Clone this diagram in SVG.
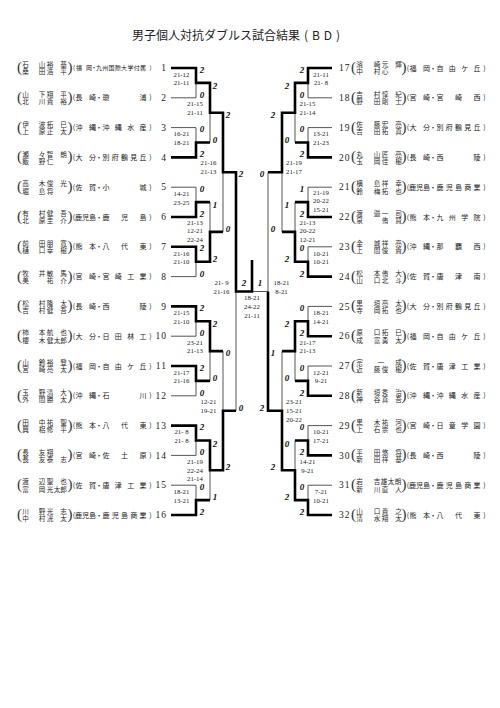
<svg xmlns="http://www.w3.org/2000/svg" width="500" height="708" viewBox="0 0 500 708">
<style>
.t{fill:none;stroke:#555;stroke-width:1}
.k{fill:none;stroke:#000;stroke-width:2.6;stroke-linejoin:miter}
.nm{font-family:"Noto Sans CJK JP","Noto Sans CJK SC",sans-serif;font-size:6.6px;fill:#2a2a2a;text-anchor:middle}
.sc{font-family:"Noto Sans CJK JP","Noto Sans CJK SC",sans-serif;font-size:7px;fill:#222;text-anchor:middle}
.bp{font-family:"Liberation Serif",serif;font-size:15px;fill:#333;text-anchor:middle}
.nl{font-family:"Liberation Serif",serif;font-size:9.5px;fill:#222;text-anchor:end;letter-spacing:1px}
.nr{font-family:"Liberation Serif",serif;font-size:9.5px;fill:#222;text-anchor:start;letter-spacing:1px}
.s{font-family:"Liberation Serif",serif;font-size:6.8px;fill:#222;text-anchor:middle}
.g{font-family:"Liberation Serif",serif;font-style:italic;font-weight:bold;font-size:9px;fill:#111;text-anchor:middle}
.ti{font-family:"Noto Sans CJK JP","Noto Sans CJK SC",sans-serif;font-size:12px;fill:#222}
</style>
<rect width="500" height="708" fill="#fff"/>
<text class="ti" x="132" y="39.5">男子個人対抗ダブルス試合結果</text>
<text class="ti" x="304" y="39.5" textLength="36">(BD)</text>

<g id="connectors">
<path class="t" d="M171,97.8H196V82.9M171,127.6H196V142.5M171,187.2H196V202.1M171,276.6H196V261.7M171,336.2H196V321.3M171,395.8H196V380.9M171,455.4H196V440.5M171,485.2H196V500.1M210,142.5V112.7M210,202.1V231.9M223,231.9V172.3M223,351.1V410.7M210,380.9V351.1M236,410.7V291.5M210,500.1V470.3M252,291.5H268"/>
<path class="t" d="M332,97.8H308V82.9M332,127.6H308V142.5M332,187.2H308V202.1M332,246.8H308V261.7M332,306.4H308V321.3M332,366H308V380.9M332,425.6H308V440.5M332,485.2H308V500.1M268,172.3V291.5M295,142.5V112.7M295,202.1V231.9M282,231.9V172.3M282,351.1V410.7M295,380.9V351.1M295,440.5V470.3"/>
<path class="k" d="M171,68H196V82.9H210V112.7H223V172.3H236V291.5H252V260"/>
<path class="k" d="M171,157.4H196V142.5H210"/>
<path class="k" d="M171,217H196V202.1H210"/>
<path class="k" d="M171,246.8H196V261.7H210V231.9H223"/>
<path class="k" d="M171,306.4H196V321.3H210V351.1H223"/>
<path class="k" d="M171,366H196V380.9H210"/>
<path class="k" d="M171,425.6H196V440.5H210V470.3H223V410.7H236"/>
<path class="k" d="M171,515H196V500.1H210"/>
<path class="k" d="M332,68H308V82.9H295V112.7H282V172.3H268"/>
<path class="k" d="M332,157.4H308V142.5H295"/>
<path class="k" d="M332,217H308V202.1H295"/>
<path class="k" d="M332,276.6H308V261.7H295V231.9H282"/>
<path class="k" d="M332,336.2H308V321.3H295V351.1H282"/>
<path class="k" d="M332,395.8H308V380.9H295"/>
<path class="k" d="M332,455.4H308V440.5H295"/>
<path class="k" d="M332,515H308V500.1H295V470.3H282V410.7H268V291.5"/>
</g>

<g id="games">
<text class="g" x="202" y="72.5">2</text><text class="g" x="202" y="97.8">0</text>
<text class="g" x="202" y="132.1">0</text><text class="g" x="202" y="157.4">2</text>
<text class="g" x="202" y="191.7">0</text><text class="g" x="202" y="217">2</text>
<text class="g" x="202" y="251.3">2</text><text class="g" x="202" y="276.6">0</text>
<text class="g" x="202" y="310.9">2</text><text class="g" x="202" y="336.2">0</text>
<text class="g" x="202" y="370.5">2</text><text class="g" x="202" y="395.8">0</text>
<text class="g" x="202" y="430.1">2</text><text class="g" x="202" y="455.4">0</text>
<text class="g" x="202" y="489.7">0</text><text class="g" x="202" y="515">2</text>
<text class="g" x="215" y="88.9">2</text><text class="g" x="215" y="142.5">0</text>
<text class="g" x="215" y="208.1">1</text><text class="g" x="215" y="261.7">2</text>
<text class="g" x="215" y="327.3">2</text><text class="g" x="215" y="380.9">0</text>
<text class="g" x="215" y="446.5">2</text><text class="g" x="215" y="500.1">1</text>
<text class="g" x="228" y="117.7">2</text><text class="g" x="228" y="231.9">0</text>
<text class="g" x="228" y="356.1">0</text><text class="g" x="228" y="470.3">2</text>
<text class="g" x="241" y="177.3">2</text><text class="g" x="241" y="410.7">0</text>
<text class="g" x="244" y="286">2</text><text class="g" x="260" y="286">1</text>
<text class="g" x="302" y="72.5">2</text><text class="g" x="302" y="97.8">0</text>
<text class="g" x="302" y="132.1">0</text><text class="g" x="302" y="157.4">2</text>
<text class="g" x="302" y="191.7">1</text><text class="g" x="302" y="217">2</text>
<text class="g" x="302" y="251.3">0</text><text class="g" x="302" y="276.6">2</text>
<text class="g" x="302" y="310.9">0</text><text class="g" x="302" y="336.2">2</text>
<text class="g" x="302" y="370.5">0</text><text class="g" x="302" y="395.8">2</text>
<text class="g" x="302" y="430.1">0</text><text class="g" x="302" y="455.4">2</text>
<text class="g" x="302" y="489.7">0</text><text class="g" x="302" y="515">2</text>
<text class="g" x="287" y="88.9">2</text><text class="g" x="287" y="142.5">0</text>
<text class="g" x="287" y="208.1">1</text><text class="g" x="287" y="261.7">2</text>
<text class="g" x="287" y="327.3">2</text><text class="g" x="287" y="380.9">0</text>
<text class="g" x="287" y="446.5">0</text><text class="g" x="287" y="500.1">2</text>
<text class="g" x="273" y="117.7">2</text><text class="g" x="273" y="231.9">0</text>
<text class="g" x="273" y="356.1">1</text><text class="g" x="273" y="470.3">2</text>
<text class="g" x="262" y="177.3">0</text><text class="g" x="262" y="410.7">2</text>
</g>

<g id="scores">
<text class="s" x="181.5" y="76.8">21-12</text><text class="s" x="181.5" y="85.3">21-11</text>
<text class="s" x="181.5" y="136.4">16-21</text><text class="s" x="181.5" y="144.9">18-21</text>
<text class="s" x="181.5" y="196">14-21</text><text class="s" x="181.5" y="204.5">23-25</text>
<text class="s" x="181.5" y="255.6">21-16</text><text class="s" x="181.5" y="264.1">21-10</text>
<text class="s" x="181.5" y="315.2">21-15</text><text class="s" x="181.5" y="323.7">21-10</text>
<text class="s" x="181.5" y="374.8">21-17</text><text class="s" x="181.5" y="383.3">21-16</text>
<text class="s" x="181.5" y="434.4">21- 8</text><text class="s" x="181.5" y="442.9">21- 8</text>
<text class="s" x="181.5" y="494">18-21</text><text class="s" x="181.5" y="502.5">13-21</text>
<text class="s" x="195" y="106.1">21-15</text><text class="s" x="195" y="114.9">21-11</text>
<text class="s" x="195" y="224.6">21-13</text><text class="s" x="195" y="233.4">12-21</text><text class="s" x="195" y="242.2">22-24</text>
<text class="s" x="195" y="344.5">23-21</text><text class="s" x="195" y="353.3">21-13</text>
<text class="s" x="195" y="463.7">21-19</text><text class="s" x="195" y="472.5">22-24</text><text class="s" x="195" y="481.3">21-14</text>
<text class="s" x="208.5" y="164.8">21-16</text><text class="s" x="208.5" y="173.8">21-13</text>
<text class="s" x="208.5" y="404">12-21</text><text class="s" x="208.5" y="413">19-21</text>
<text class="s" x="221.5" y="284.8">21- 9</text><text class="s" x="221.5" y="293.8">21-16</text>
<text class="s" x="252" y="300.3">18-21</text><text class="s" x="252" y="309.3">24-22</text><text class="s" x="252" y="318.3">21-11</text>
<text class="s" x="281.5" y="284.8">18-21</text><text class="s" x="281.5" y="293.8">8-21</text>
<text class="s" x="294" y="165">21-19</text><text class="s" x="294" y="174">21-17</text>
<text class="s" x="294" y="404.3">23-21</text><text class="s" x="294" y="413">15-21</text><text class="s" x="294" y="421.8">20-22</text>
<text class="s" x="307.5" y="106.1">21-15</text><text class="s" x="307.5" y="114.9">21-14</text>
<text class="s" x="307.5" y="224.6">21-13</text><text class="s" x="307.5" y="233.4">20-22</text><text class="s" x="307.5" y="242.2">12-21</text>
<text class="s" x="307.5" y="344.5">21-17</text><text class="s" x="307.5" y="353.3">21-13</text>
<text class="s" x="307.5" y="463.7">14-21</text><text class="s" x="307.5" y="472.5">9-21</text>
<text class="s" x="321" y="76.8">21-11</text><text class="s" x="321" y="85.3">21- 8</text>
<text class="s" x="321" y="136.4">13-21</text><text class="s" x="321" y="144.9">21-23</text>
<text class="s" x="321" y="194.5">21-19</text><text class="s" x="321" y="203">20-22</text><text class="s" x="321" y="211.5">15-21</text>
<text class="s" x="321" y="255.6">10-21</text><text class="s" x="321" y="264.1">10-21</text>
<text class="s" x="321" y="315.2">18-21</text><text class="s" x="321" y="323.7">14-21</text>
<text class="s" x="321" y="374.8">12-21</text><text class="s" x="321" y="383.3">9-21</text>
<text class="s" x="321" y="434.4">10-21</text><text class="s" x="321" y="442.9">17-21</text>
<text class="s" x="321" y="494">7-21</text><text class="s" x="321" y="502.5">10-21</text>
</g>

<g id="e1" transform="translate(0,68)"><text class="bp" x="19.5" y="4">(</text><text class="nm"><tspan x="25.5 42 50 63.5" y="-0.8">石山裕基</tspan><tspan x="25.5 42 50 63.5" y="6.4">桑田浩平</tspan></text><text class="bp" x="70" y="4">)</text><text class="sc" style="font-size:6px" x="74 79 89 94 99 105.3 111.6 117.9 124.1 130.4 136.7 143 150.5" y="2.3">(福岡・九州国際大学付属)</text><text class="nl" x="167" y="3.2">1</text></g>
<g id="e2" transform="translate(0,97.8)"><text class="bp" x="19.5" y="4">(</text><text class="nm"><tspan x="25.5 42 50 63.5" y="-0.8">山下翔平</tspan><tspan x="25.5 42 50 63.5" y="6.4">北川貴裕</tspan></text><text class="bp" x="70" y="4">)</text><text class="sc" x="74 79 92.5 99 106 143 150.5" y="2.5">(長崎・瓊浦)</text><text class="nl" x="167" y="3.2">2</text></g>
<g id="e3" transform="translate(0,127.6)"><text class="bp" x="19.5" y="4">(</text><text class="nm"><tspan x="25.5 42 50 63.5" y="-0.8">伊波拓巳</tspan><tspan x="25.5 42 50 63.5" y="6.4">上原正太</tspan></text><text class="bp" x="70" y="4">)</text><text class="sc" x="74 79 92.5 99 106 118.3 130.7 143 150.5" y="2.5">(沖縄・沖縄水産)</text><text class="nl" x="167" y="3.2">3</text></g>
<g id="e4" transform="translate(0,157.4)"><text class="bp" x="19.5" y="4">(</text><text class="nm"><tspan x="25.5 42 50 63.5" y="-0.8">瀬々智朗</tspan><tspan x="25.5 42 50" y="6.4">飯野仁</tspan></text><text class="bp" x="70" y="4">)</text><text class="sc" x="74 79 92.5 99 106 115.3 124.5 133.8 143 150.5" y="2.5">(大分・別府鶴見丘)</text><text class="nl" x="167" y="3.2">4</text></g>
<g id="e5" transform="translate(0,187.2)"><text class="bp" x="19.5" y="4">(</text><text class="nm"><tspan x="25.5 42 50 63.5" y="-0.8">高木俊光</tspan><tspan x="25.5 42 50" y="6.4">堀島将</tspan></text><text class="bp" x="70" y="4">)</text><text class="sc" x="74 79 92.5 99 106 143 150.5" y="2.5">(佐賀・小城)</text><text class="nl" x="167" y="3.2">5</text></g>
<g id="e6" transform="translate(0,217)"><text class="bp" x="19.5" y="4">(</text><text class="nm"><tspan x="25.5 42 50 63.5" y="-0.8">有村健吾</tspan><tspan x="25.5 42 50 63.5" y="6.4">北原圭介</tspan></text><text class="bp" x="70" y="4">)</text><text class="sc" x="74 78.5 85.5 92.5 99 106 124.5 143 150.5" y="2.5">(鹿児島・鹿児島)</text><text class="nl" x="167" y="3.2">6</text></g>
<g id="e7" transform="translate(0,246.8)"><text class="bp" x="19.5" y="4">(</text><text class="nm"><tspan x="25.5 42 50 63.5" y="-0.8">前田朋寛</tspan><tspan x="25.5 42 50 63.5" y="6.4">樋口幸樹</tspan></text><text class="bp" x="70" y="4">)</text><text class="sc" x="74 79 92.5 99 106 124.5 143 150.5" y="2.5">(熊本・八代東)</text><text class="nl" x="167" y="3.2">7</text></g>
<g id="e8" transform="translate(0,276.6)"><text class="bp" x="19.5" y="4">(</text><text class="nm"><tspan x="25.5 42 50 63.5" y="-0.8">牧井敏馬</tspan><tspan x="25.5 50 63.5" y="6.4">美祐介</tspan></text><text class="bp" x="70" y="4">)</text><text class="sc" x="74 79 92.5 99 106 118.3 130.7 143 150.5" y="2.5">(宮崎・宮崎工業)</text><text class="nl" x="167" y="3.2">8</text></g>
<g id="e9" transform="translate(0,306.4)"><text class="bp" x="19.5" y="4">(</text><text class="nm"><tspan x="25.5 42 50 63.5" y="-0.8">松村隆太</tspan><tspan x="25.5 42 50 63.5" y="6.4">吉村健吾</tspan></text><text class="bp" x="70" y="4">)</text><text class="sc" x="74 79 92.5 99 106 143 150.5" y="2.5">(長崎・西陵)</text><text class="nl" x="167" y="3.2">9</text></g>
<g id="e10" transform="translate(0,336.2)"><text class="bp" x="19.5" y="4">(</text><text class="nm"><tspan x="25.5 42 50 63.5" y="-0.8">柿本航也</tspan><tspan x="25.5 42 50 57 63.5" y="6.4">櫻木健太郎</tspan></text><text class="bp" x="70" y="4">)</text><text class="sc" x="74 79 92.5 99 106 118.3 130.7 143 150.5" y="2.5">(大分・日田林工)</text><text class="nl" x="167" y="3.2">10</text></g>
<g id="e11" transform="translate(0,366)"><text class="bp" x="19.5" y="4">(</text><text class="nm"><tspan x="25.5 42 50 63.5" y="-0.8">山鈴裕登</tspan><tspan x="25.5 42 50 63.5" y="6.4">宮崎亮太</tspan></text><text class="bp" x="70" y="4">)</text><text class="sc" x="74 79 92.5 99 106 118.3 130.7 143 150.5" y="2.5">(福岡・自由ケ丘)</text><text class="nl" x="167" y="3.2">11</text></g>
<g id="e12" transform="translate(0,395.8)"><text class="bp" x="19.5" y="4">(</text><text class="nm"><tspan x="25.5 42 50 63.5" y="-0.8">玉野清大</tspan><tspan x="25.5 42 50 63.5" y="6.4">外間勝太</tspan></text><text class="bp" x="70" y="4">)</text><text class="sc" x="74 79 92.5 99 106 143 150.5" y="2.5">(沖縄・石川)</text><text class="nl" x="167" y="3.2">12</text></g>
<g id="e13" transform="translate(0,425.6)"><text class="bp" x="19.5" y="4">(</text><text class="nm"><tspan x="25.5 42 50 63.5" y="-0.8">田中祐聖</tspan><tspan x="25.5 42 50 63.5" y="6.4">興梠修平</tspan></text><text class="bp" x="70" y="4">)</text><text class="sc" x="74 79 92.5 99 106 124.5 143 150.5" y="2.5">(熊本・八代東)</text><text class="nl" x="167" y="3.2">13</text></g>
<g id="e14" transform="translate(0,455.4)"><text class="bp" x="19.5" y="4">(</text><text class="nm"><tspan x="25.5 42 50" y="-0.8">長友翔</tspan><tspan x="25.5 42 50 63.5" y="6.4">長友泰志</tspan></text><text class="bp" x="70" y="4">)</text><text class="sc" x="74 79 92.5 99 106 124.5 143 150.5" y="2.5">(宮崎・佐土原)</text><text class="nl" x="167" y="3.2">14</text></g>
<g id="e15" transform="translate(0,485.2)"><text class="bp" x="19.5" y="4">(</text><text class="nm"><tspan x="25.5 42 50 63.5" y="-0.8">渡辺聖也</tspan><tspan x="25.5 42 50 57 63.5" y="6.4">富岡光太郎</tspan></text><text class="bp" x="70" y="4">)</text><text class="sc" x="74 79 92.5 99 106 118.3 130.7 143 150.5" y="2.5">(佐賀・唐津工業)</text><text class="nl" x="167" y="3.2">15</text></g>
<g id="e16" transform="translate(0,515)"><text class="bp" x="19.5" y="4">(</text><text class="nm"><tspan x="25.5 42 50 63.5" y="-0.8">川野光志</tspan><tspan x="25.5 42 50 63.5" y="6.4">中村洸太</tspan></text><text class="bp" x="70" y="4">)</text><text class="sc" x="74 78.5 85.5 92.5 99 106 115.3 124.5 133.8 143 150.5" y="2.5">(鹿児島・鹿児島商業)</text><text class="nl" x="167" y="3.2">16</text></g>

<g id="e17" transform="translate(0,68)"><text class="nr" x="339" y="3.2">17</text><text class="bp" x="353.5" y="4">(</text><text class="nm"><tspan x="359.5 377 385 398.5" y="-0.8">濱崎元輝</tspan><tspan x="359.5 377 385" y="6.4">中村心</tspan></text><text class="bp" x="404" y="4">)</text><text class="sc" x="408 413 426.5 433 440 452.3 464.7 477 484.5" y="2.5">(福岡・自由ケ丘)</text></g>
<g id="e18" transform="translate(0,97.8)"><text class="nr" x="339" y="3.2">18</text><text class="bp" x="353.5" y="4">(</text><text class="nm"><tspan x="359.5 377 385 398.5" y="-0.8">吉村惇紀</tspan><tspan x="359.5 377 385 398.5" y="6.4">野田剛士</tspan></text><text class="bp" x="404" y="4">)</text><text class="sc" x="408 413 426.5 433 440 458.5 477 484.5" y="2.5">(宮崎・宮崎西)</text></g>
<g id="e19" transform="translate(0,127.6)"><text class="nr" x="339" y="3.2">19</text><text class="bp" x="353.5" y="4">(</text><text class="nm"><tspan x="359.5 377 385 398.5" y="-0.8">佐藤宏亮</tspan><tspan x="359.5 377 385 398.5" y="6.4">吉田拓真</tspan></text><text class="bp" x="404" y="4">)</text><text class="sc" x="408 413 426.5 433 440 449.3 458.5 467.8 477 484.5" y="2.5">(大分・別府鶴見丘)</text></g>
<g id="e20" transform="translate(0,157.4)"><text class="nr" x="339" y="3.2">20</text><text class="bp" x="353.5" y="4">(</text><text class="nm"><tspan x="359.5 377 385 398.5" y="-0.8">丸山匠亮</tspan><tspan x="359.5 377 385 398.5" y="6.4">玉岡佳樹</tspan></text><text class="bp" x="404" y="4">)</text><text class="sc" x="408 413 426.5 433 440 477 484.5" y="2.5">(長崎・西陵)</text></g>
<g id="e21" transform="translate(0,187.2)"><text class="nr" x="339" y="3.2">21</text><text class="bp" x="353.5" y="4">(</text><text class="nm"><tspan x="359.5 377 385 398.5" y="-0.8">横島祥幸</tspan><tspan x="359.5 377 385 398.5" y="6.4">鈴梅拓也</tspan></text><text class="bp" x="404" y="4">)</text><text class="sc" x="408 412.5 419.5 426.5 433 440 449.3 458.5 467.8 477 484.5" y="2.5">(鹿児島・鹿児島商業)</text></g>
<g id="e22" transform="translate(0,217)"><text class="nr" x="339" y="3.2">22</text><text class="bp" x="353.5" y="4">(</text><text class="nm"><tspan x="359.5 377 385 398.5" y="-0.8">渡邉一司</tspan><tspan x="359.5 385 398.5" y="6.4">泉侑賢</tspan></text><text class="bp" x="404" y="4">)</text><text class="sc" x="408 413 426.5 433 440 452.3 464.7 477 484.5" y="2.5">(熊本・九州学院)</text></g>
<g id="e23" transform="translate(0,246.8)"><text class="nr" x="339" y="3.2">23</text><text class="bp" x="353.5" y="4">(</text><text class="nm"><tspan x="359.5 377 385 398.5" y="-0.8">金城祥亮</tspan><tspan x="359.5 377 385 398.5" y="6.4">上間俊貴</tspan></text><text class="bp" x="404" y="4">)</text><text class="sc" x="408 413 426.5 433 440 458.5 477 484.5" y="2.5">(沖縄・那覇西)</text></g>
<g id="e24" transform="translate(0,276.6)"><text class="nr" x="339" y="3.2">24</text><text class="bp" x="353.5" y="4">(</text><text class="nm"><tspan x="359.5 377 385 398.5" y="-0.8">松本侑大</tspan><tspan x="359.5 377 385 398.5" y="6.4">山口北斗</tspan></text><text class="bp" x="404" y="4">)</text><text class="sc" x="408 413 426.5 433 440 458.5 477 484.5" y="2.5">(佐賀・唐津南)</text></g>
<g id="e25" transform="translate(0,306.4)"><text class="nr" x="339" y="3.2">25</text><text class="bp" x="353.5" y="4">(</text><text class="nm"><tspan x="359.5 377 385 398.5" y="-0.8">黒垣亮太</tspan><tspan x="359.5 377 385 398.5" y="6.4">寺岡拓也</tspan></text><text class="bp" x="404" y="4">)</text><text class="sc" x="408 413 426.5 433 440 449.3 458.5 467.8 477 484.5" y="2.5">(大分・別府鶴見丘)</text></g>
<g id="e26" transform="translate(0,336.2)"><text class="nr" x="339" y="3.2">26</text><text class="bp" x="353.5" y="4">(</text><text class="nm"><tspan x="359.5 377 385 398.5" y="-0.8">原口拓巳</tspan><tspan x="359.5 377 385 398.5" y="6.4">成富勇太</tspan></text><text class="bp" x="404" y="4">)</text><text class="sc" x="408 413 426.5 433 440 452.3 464.7 477 484.5" y="2.5">(福岡・自由ケ丘)</text></g>
<g id="e27" transform="translate(0,366)"><text class="nr" x="339" y="3.2">27</text><text class="bp" x="353.5" y="4">(</text><text class="nm"><tspan x="359.5 381 398.5" y="-0.8">宗一成</tspan><tspan x="359.5 377 385 398.5" y="6.4">近藤俊樹</tspan></text><text class="bp" x="404" y="4">)</text><text class="sc" x="408 413 426.5 433 440 452.3 464.7 477 484.5" y="2.5">(佐賀・唐津工業)</text></g>
<g id="e28" transform="translate(0,395.8)"><text class="nr" x="339" y="3.2">28</text><text class="bp" x="353.5" y="4">(</text><text class="nm"><tspan x="359.5 377 385 398.5" y="-0.8">新垣秀治</tspan><tspan x="359.5 377 385 398.5" y="6.4">神谷真吾</tspan></text><text class="bp" x="404" y="4">)</text><text class="sc" x="408 413 426.5 433 440 452.3 464.7 477 484.5" y="2.5">(沖縄・沖縄水産)</text></g>
<g id="e29" transform="translate(0,425.6)"><text class="nr" x="339" y="3.2">29</text><text class="bp" x="353.5" y="4">(</text><text class="nm"><tspan x="359.5 377 385 398.5" y="-0.8">黒木祐河</tspan><tspan x="359.5 377 385 398.5" y="6.4">上石崇也</tspan></text><text class="bp" x="404" y="4">)</text><text class="sc" x="408 413 426.5 433 440 452.3 464.7 477 484.5" y="2.5">(宮崎・日章学園)</text></g>
<g id="e30" transform="translate(0,455.4)"><text class="nr" x="339" y="3.2">30</text><text class="bp" x="353.5" y="4">(</text><text class="nm"><tspan x="359.5 377 385 398.5" y="-0.8">平田悠将</tspan><tspan x="359.5 377 385 398.5" y="6.4">新田祥基</tspan></text><text class="bp" x="404" y="4">)</text><text class="sc" x="408 413 426.5 433 440 477 484.5" y="2.5">(長崎・西陵)</text></g>
<g id="e31" transform="translate(0,485.2)"><text class="nr" x="339" y="3.2">31</text><text class="bp" x="353.5" y="4">(</text><text class="nm"><tspan x="359.5 377 384 391 398" y="-0.8">岩吉雄太朗</tspan><tspan x="359.5 377 385 398.5" y="6.4">新川直人</tspan></text><text class="bp" x="404" y="4">)</text><text class="sc" x="408 412.5 419.5 426.5 433 440 449.3 458.5 467.8 477 484.5" y="2.5">(鹿児島・鹿児島商業)</text></g>
<g id="e32" transform="translate(0,515)"><text class="nr" x="339" y="3.2">32</text><text class="bp" x="353.5" y="4">(</text><text class="nm"><tspan x="359.5 377 385 398.5" y="-0.8">山口貴之</tspan><tspan x="359.5 377 385 398.5" y="6.4">清水翔太</tspan></text><text class="bp" x="404" y="4">)</text><text class="sc" x="408 413 426.5 433 440 458.5 477 484.5" y="2.5">(熊本・八代東)</text></g>
</svg>
